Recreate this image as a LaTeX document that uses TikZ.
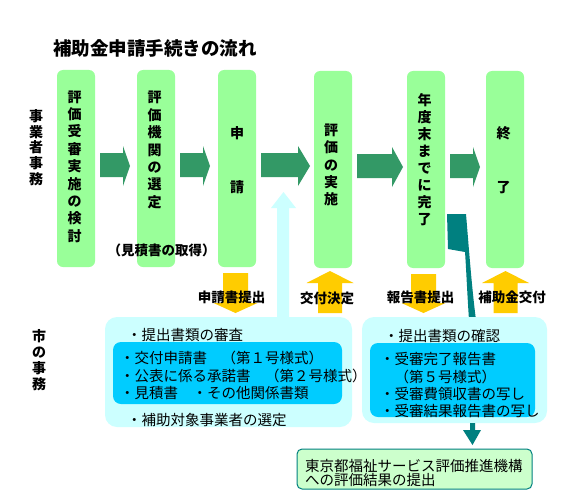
\documentclass[tikz,border=0pt]{standalone}
\usepackage{fontspec}
\setmainfont{Noto Sans CJK JP}
\usetikzlibrary{calc}
\definecolor{boxgreen}{HTML}{99FF99}
\definecolor{arrgreen}{HTML}{339966}
\definecolor{lcyan}{HTML}{CCFFFF}
\definecolor{dcyan}{HTML}{00CCFF}
\definecolor{ayellow}{HTML}{FFCC00}
\definecolor{tealc}{HTML}{008080}
\definecolor{pgreen}{HTML}{CCFFCC}
% green block arrow between two step boxes: from, to, tip gap, head length
\newcommand\garr[4]{%
  \fill[arrgreen] let \p1=(#1.east), \p2=(#2.west) in
  (\x1+5pt,\y1+15.5pt) -- (\x2-#3pt-#4pt,\y1+15.5pt) -- (\x2-#3pt-#4pt,\y1+22.5pt)
  -- (\x2-#3pt,\y1+2.5pt) -- (\x2-#3pt-#4pt,\y1-17.5pt) -- (\x2-#3pt-#4pt,\y1-8.5pt)
  -- (\x1+5pt,\y1-8.5pt) -- cycle;}
% yellow arrow down from step box to office box
\newcommand\ydown[3]{%
  \fill[ayellow] let \p1=(#1.south), \p2=(#2.north) in
  (\x1+#3pt-12.5pt,\y1-6pt) -- (\x1+#3pt+12.5pt,\y1-6pt) -- (\x1+#3pt+12.5pt,\y2+14pt)
  -- (\x1+#3pt+22pt,\y2+14pt) -- (\x1+#3pt,\y2+4pt) -- (\x1+#3pt-22pt,\y2+14pt)
  -- (\x1+#3pt-12.5pt,\y2+14pt) -- cycle;}
% yellow arrow up from office box to step box
\newcommand\yup[3]{%
  \fill[ayellow] let \p1=(#1.south), \p2=(#2.north) in
  (\x1+#3pt-12pt,\y2+4pt) -- (\x1+#3pt+12pt,\y2+4pt) -- (\x1+#3pt+12pt,\y1-15pt)
  -- (\x1+#3pt+23.5pt,\y1-15pt) -- (\x1+#3pt,\y1-3pt) -- (\x1+#3pt-23.5pt,\y1-15pt)
  -- (\x1+#3pt-12pt,\y1-15pt) -- cycle;}
\begin{document}
\begin{tikzpicture}[x=1pt,y=-1pt,
  every node/.style={inner sep=0pt, outer sep=0pt},
  stepbox/.style={fill=boxgreen, rounded corners=6pt, minimum width=38pt, minimum height=197pt, anchor=north west},
  vlab/.style={align=center, font=\bfseries\fontsize{14}{17.4}\selectfont},
  sidelab/.style={align=center, font=\bfseries\fontsize{14}{15.8}\selectfont},
  cbox/.style={fill=lcyan, rounded corners=12pt, anchor=north west},
  ibox/.style={fill=dcyan, rounded corners=8pt, anchor=north west},
  txt/.style={anchor=west, font=\fontsize{14.5}{17}\selectfont},
  alab/.style={font=\bfseries\fontsize{13.5}{16}\selectfont},
]
\useasboundingbox (0,0) rectangle (569,500);
\fill[white] (0,0) rectangle (569,500);

\node[anchor=west, font=\bfseries\fontsize{18.5}{20}\selectfont] (title) at (53,48) {補助金申請手続きの流れ};

\node[sidelab] (side1) at (36,147.5) {事\\業\\者\\事\\務};
\node[sidelab] (side2) at (39,360) {市\\の\\事\\務};

% step boxes
\node[stepbox] (b1) at (57,70) {};
\node[stepbox] (b2) at (137,70) {};
\node[stepbox] (b3) at (218,70) {};
\node[stepbox] (b4) at (314,71) {};
\node[stepbox] (b5) at (407,71) {};
\node[stepbox] (b6) at (486,71) {};

\node[vlab] (t1) at (74.5,166.5) {評\\価\\受\\審\\実\\施\\の\\検\\討};
\node[vlab] (t2) at (154.5,150) {評\\価\\機\\関\\の\\選\\定};
\node[vlab] (t3) at (237,160) {申\\[36pt]請};
\node[vlab] (t4) at (331,165) {評\\価\\の\\実\\施};
\node[vlab, font=\bfseries\fontsize{14}{17}\selectfont] (t5) at (424.5,160) {年\\度\\末\\ま\\で\\に\\完\\了};
\node[vlab] (t6) at (503.5,160) {終\\[36pt]了};

\node[alab] (mitsu) at (161.5,250) {（見積書の取得）};

% green arrows
\garr{b1}{b2}{7}{7}
\garr{b2}{b3}{8}{7}
\garr{b3}{b4}{4}{12}
\garr{b4}{b5}{4}{11}
\garr{b5}{b6}{6}{7}

% light cyan arrow up
\fill[lcyan] (277,320) -- (277,208) -- (271,208) -- (283.5,192) -- (296,208) -- (289,208) -- (289,320) -- cycle;

% teal curved band
\fill[tealc] (447,214) -- (466,214) .. controls (469,250) and (472,290) .. (476,320)
  -- (469,320) .. controls (467,290) and (466,265) .. (465,252) -- (448,249) -- cycle;

% office boxes
\node[cbox, minimum width=247pt, minimum height=110pt] (lbox) at (105,317) {};
\node[ibox, minimum width=229pt, minimum height=62pt] (libox) at (113,342) {};
\node[cbox, minimum width=185pt, minimum height=106pt] (rbox) at (362,317) {};
\node[ibox, minimum width=165pt, minimum height=74pt] (ribox) at (370,343) {};

\node[txt] (l1) at (127,335) {・提出書類の審査};
\node[txt] (l2) at (120,358) {・交付申請書　（第１号様式）};
\node[txt] (l3) at (120,376) {・公表に係る承諾書　（第２号様式）};
\node[txt] (l4) at (120,393) {・見積書　・その他関係書類};
\node[txt] (l5) at (127,420) {・補助対象事業者の選定};

\node[txt] (r1) at (384,336) {・提出書類の確認};
\node[txt] (r2) at (380,359) {・受審完了報告書};
\node[txt] (r3) at (380,377) {　（第５号様式）};
\node[txt] (r4) at (380,394) {・受審費領収書の写し};
\node[txt] (r5) at (380,411) {・受審結果報告書の写し};

% yellow arrows
\ydown{b3}{lbox}{-1.5}
\yup{b4}{lbox}{-3}
\ydown{b5}{rbox}{-2.5}
\yup{b6}{rbox}{0.5}

\node[alab] (y1) at (231.5,297) {申請書提出};
\node[alab] (y2) at (327,298) {交付決定};
\node[alab] (y3) at (420.5,297) {報告書提出};
\node[alab] (y4) at (512,297) {補助金交付};

% final box
\node[fill=pgreen, draw=tealc, line width=1pt, rounded corners=5pt, minimum width=235pt, minimum height=40pt, anchor=north west] (fbox) at (297,449) {};
\fill[tealc] (470,423) -- (475,423) -- (475,430) -- (481,430) -- (472.5,445) -- (463,430) -- (470,430) -- cycle;
\node[txt] (f1) at (305,466) {東京都福祉サービス評価推進機構};
\node[txt] (f2) at (305,480) {への評価結果の提出};
\end{tikzpicture}
\end{document}
